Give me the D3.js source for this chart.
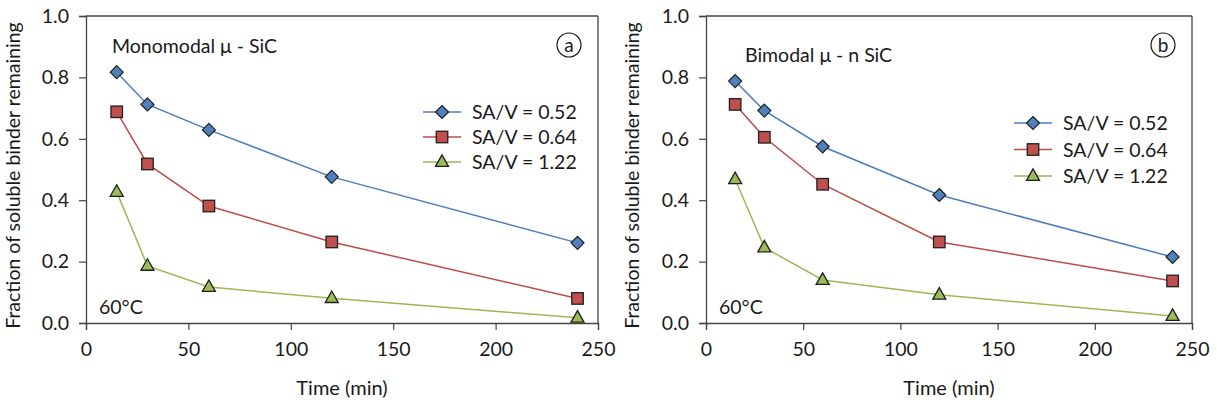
<!DOCTYPE html>
<html><head><meta charset="utf-8">
<script src="https://cdn.jsdelivr.net/npm/d3@7"></script>
<style>
html,body{margin:0;padding:0;background:#fff;}
svg text{font-family:Lato,"Open Sans",sans-serif;fill:#1a1a1a;}
</style></head>
<body>
<svg id="chart" width="1217" height="406"></svg>
<script>
// ---- data ----
const times = [15, 30, 60, 120, 240];
const seriesNames = ["SA/V = 0.52", "SA/V = 0.64", "SA/V = 1.22"];
const monoSAV052 = [0.817, 0.712, 0.629, 0.476, 0.261];
const monoSAV064 = [0.688, 0.518, 0.381, 0.264, 0.080];
const monoSAV122 = [0.427, 0.186, 0.117, 0.081, 0.017];
const biSAV052 = [0.788, 0.692, 0.575, 0.417, 0.215];
const biSAV064 = [0.712, 0.605, 0.452, 0.264, 0.137];
const biSAV122 = [0.468, 0.246, 0.140, 0.092, 0.023];
const xTicks = [0, 50, 100, 150, 200, 250];
const yTicks = [0.0, 0.2, 0.4, 0.6, 0.8, 1.0];
const panelTitles = ["Monomodal \u03bc - SiC", "Bimodal \u03bc - n SiC"];
const panelLetters = ["a", "b"];

const lineColors = ["#4A7EBB", "#BE4B48", "#98B954"];
const fillColors = ["#4F81BD", "#C0504D", "#9BBB59"];
const shapes = ["diamond", "square", "triangle"];

const svg = d3.select("#chart");

const panels = [
  {x0: 86, x1: 598, data: [monoSAV052, monoSAV064, monoSAV122],
   titleX: 112, titleY: 53, legX: 423, legY: 112, legDy: 25,
   tempX: 99, circX: 569, yTitleX: 20},
  {x0: 706, x1: 1192, data: [biSAV052, biSAV064, biSAV122],
   titleX: 745, titleY: 62, legX: 1014, legY: 123, legDy: 26.5,
   tempX: 719, circX: 1163, yTitleX: 639}
];

const yTop = 16, yBot = 323;

function marker(g, shape, cx, cy, fill) {
  if (shape === "diamond") {
    const r = 6.5;
    g.append("path").attr("d", `M${cx},${cy-r}L${cx+r},${cy}L${cx},${cy+r}L${cx-r},${cy}Z`)
      .attr("fill", fill).attr("stroke", "#1f1f1f").attr("stroke-width", 1.2);
  } else if (shape === "square") {
    const s = 11.5;
    g.append("rect").attr("x", cx - s/2).attr("y", cy - s/2).attr("width", s).attr("height", s)
      .attr("fill", fill).attr("stroke", "#1f1f1f").attr("stroke-width", 1.3);
  } else {
    const w = 13, h = 11.5;
    g.append("path").attr("d", `M${cx},${cy-h*0.62}L${cx+w/2},${cy+h*0.38}L${cx-w/2},${cy+h*0.38}Z`)
      .attr("fill", fill).attr("stroke", "#1f1f1f").attr("stroke-width", 1.3);
  }
}

panels.forEach((p, pi) => {
  const x = d3.scaleLinear().domain([0, 250]).range([p.x0, p.x1]);
  const y = d3.scaleLinear().domain([0, 1]).range([yBot, yTop]);
  const g = svg.append("g");

  // top and right border
  g.append("line").attr("x1", p.x0).attr("x2", p.x1).attr("y1", yTop).attr("y2", yTop)
    .attr("stroke", "#444").attr("stroke-width", 1.3);
  g.append("line").attr("x1", p.x1).attr("x2", p.x1).attr("y1", yTop).attr("y2", yBot)
    .attr("stroke", "#444").attr("stroke-width", 1.3);

  // axes
  const xAxis = g.append("g").attr("transform", `translate(0,${yBot})`)
    .call(d3.axisBottom(x).tickValues(xTicks).tickSize(7).tickPadding(12).tickFormat(d3.format("d")));
  const yAxis = g.append("g").attr("transform", `translate(${p.x0},0)`)
    .call(d3.axisLeft(y).tickValues(yTicks).tickSize(7).tickPadding(10).tickFormat(d3.format(".1f")));
  [xAxis, yAxis].forEach(a => {
    a.select(".domain").attr("stroke", "#444").attr("stroke-width", 1.3);
    a.selectAll(".tick line").attr("stroke", "#444").attr("stroke-width", 1.2);
    a.selectAll(".tick text").attr("font-size", 19.5).attr("font-family", "Lato,sans-serif").attr("fill", "#1a1a1a");
  });

  // axis titles
  g.append("text").attr("x", (p.x0 + p.x1) / 2).attr("y", 395).attr("text-anchor", "middle")
    .attr("font-size", 20).text("Time (min)");
  g.append("text").attr("transform", `translate(${p.yTitleX},${(yTop + yBot) / 2 + 6}) rotate(-90)`)
    .attr("text-anchor", "middle").attr("font-size", 19.5).text("Fraction of soluble binder remaining");

  // series
  const line = d3.line().x((d, i) => x(times[i])).y(d => y(d));
  p.data.forEach((vals, si) => {
    g.append("path").datum(vals).attr("d", line).attr("fill", "none")
      .attr("stroke", lineColors[si]).attr("stroke-width", 1.5);
  });
  p.data.forEach((vals, si) => {
    vals.forEach((v, i) => marker(g, shapes[si], x(times[i]), y(v), fillColors[si]));
  });

  // panel title
  g.append("text").attr("x", p.titleX).attr("y", p.titleY).attr("font-size", 19.5).text(panelTitles[pi]);
  // temperature label
  g.append("text").attr("x", p.tempX).attr("y", 314).attr("font-size", 19.5).text("60\u00b0C");
  // circled letter
  g.append("circle").attr("cx", p.circX).attr("cy", 45).attr("r", 12)
    .attr("fill", "none").attr("stroke", "#1a1a1a").attr("stroke-width", 1.2);
  g.append("text").attr("x", p.circX).attr("y", 51.5).attr("text-anchor", "middle")
    .attr("font-size", 19).text(panelLetters[pi]);

  // legend
  seriesNames.forEach((name, si) => {
    const ly = p.legY + si * p.legDy;
    g.append("line").attr("x1", p.legX).attr("x2", p.legX + 38).attr("y1", ly).attr("y2", ly)
      .attr("stroke", lineColors[si]).attr("stroke-width", 1.5);
    marker(g, shapes[si], p.legX + 19, ly, fillColors[si]);
    g.append("text").attr("x", p.legX + 49).attr("y", ly + 7).attr("font-size", 19.5).text(name);
  });
});
</script>
</body></html>
